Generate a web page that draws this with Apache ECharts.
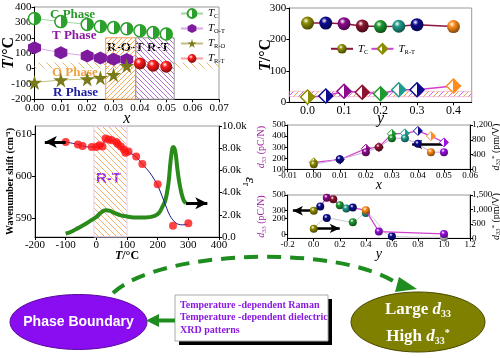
<!DOCTYPE html>
<html><head><meta charset="utf-8">
<script src="https://cdn.jsdelivr.net/npm/echarts@6/dist/echarts.min.js"></script>
<style>html,body{margin:0;padding:0;background:#fff}#c{width:500px;height:358px}</style>
</head><body><div id="c"></div>
<script>
// ---------- Panel 1: T vs x phase diagram ----------
const xA = [0, 0.01, 0.02, 0.025, 0.03, 0.035, 0.04, 0.045, 0.05];
const tcA = [325, 305, 287, 273, 266, 258, 245, 234, 224];
const xOT = [0, 0.01, 0.02, 0.025, 0.03, 0.035];
const tOT = [135, 103, 82, 68, 60, 58];
const tRO = [-90, -75, -68, -60, -40, 18];
const xRT = [0.04, 0.045, 0.05];
const tRT = [32, 18, 12];

// ---------- Panel 2: T vs y ----------
const yB = [0, 0.05, 0.1, 0.15, 0.2, 0.25, 0.3, 0.4];
const tcB = [252, 252, 250, 243, 241, 242, 247, 241];
const trtB = [17, 20, 35, 32, 27, 40, 40, 52];
const yTicksB = [0, 0.1, 0.2, 0.3, 0.4];

// ---------- Panel 3: Raman wavenumber + dielectric vs T ----------
const tRaman = [-100, -60, -45, -15, 0, 10, 20, 30, 40, 50, 65, 70, 80, 90, 95, 105, 130, 150, 200, 250, 300];
const wnRaman = [608.2, 607.6, 607.2, 607.0, 607.0, 607.4, 607.1, 609.0, 608.8, 608.6, 608.2, 607.7, 607.1, 606.4, 605.6, 605.9, 604.7, 602.9, 598.1, 588.2, 588.8];
const tFit = [-100, -60, -30, 0, 20, 30, 50, 70, 90, 110, 130, 150, 175, 200, 220, 240, 260, 280, 300];
const wnFit = [608.2, 607.6, 607.0, 607.0, 607.2, 608.9, 608.6, 607.8, 606.3, 605.6, 604.6, 602.9, 600.8, 597.8, 594.2, 590.6, 588.8, 588.4, 588.6];
const tDiel = [-100, -80, -60, -40, -20, 0, 15, 30, 45, 60, 80, 100, 130, 160, 190, 205, 215, 225, 235, 242, 248, 252, 258, 264, 270, 278, 285, 292];
const epsDiel = [300, 500, 800, 1100, 1450, 1800, 2200, 2400, 2350, 2150, 1950, 1850, 1750, 1750, 1900, 2200, 2700, 3300, 4800, 6800, 8000, 8100, 7600, 6200, 5000, 3900, 3300, 3050];
const wnTicks = [590, 600, 610];

// ---------- Panel 4: d33 / d33* vs x ----------
const xD = [0, 0.01, 0.02, 0.025, 0.03, 0.035, 0.04, 0.045, 0.05];
const d33X = [145, 190, 255, 300, 380, 380, 330, 255, 255];
const d33sX = [190, 260, 560, 600, 960, 975, 1040, 900, 730];

// ---------- Panel 5: d33 / d33* vs y ----------
const yE = [0, 0.05, 0.1, 0.15, 0.2, 0.25, 0.3, 0.4, 0.5, 1.0];
const d33Y = [300, 355, 465, 445, 370, 330, 340, 305, 35, 5];
const yE2 = [0, 0.1, 0.3, 0.4, 0.6, 1.0];
const d33sY = [330, 700, 560, 875, 70, 35];
const d33Ticks = [0, 100, 200, 300, 400, 500];

const serif = 'Liberation Serif';
const COL = {olive:'#8c8c00', navy:'#0c0c90', purple:'#8c0a8c', maroon:'#8c1430', green:'#1e9a30', teal:'#1f9b8c', orange:'#ff8c1a', violet:'#9a10e0', gray:'#c8c8c8'};
const colsB = ['olive','navy','purple','maroon','green','teal','navy','orange'];
const colsD = ['olive','navy','purple','maroon','green','teal','navy','orange','violet'];
const colsE = ['olive','navy','purple','maroon','green','teal','navy','orange','violet','violet'];
const colsE2 = ['olive','navy','green','teal','navy','gray'];

function shade(hex, f){ const n=parseInt(hex.slice(1),16); const r=(n>>16)&255,g=(n>>8)&255,b=n&255; return 'rgb('+Math.round(r*f)+','+Math.round(g*f)+','+Math.round(b*f)+')'; }
function sphere(c){ return {type:'radial', x:0.38, y:0.32, r:0.75, colorStops:[{offset:0,color:'#ffffff'},{offset:0.3,color:c},{offset:1,color:shade(c,0.45)}]}; }
function half(c){ return {type:'linear', x:0,y:0,x2:1,y2:0, colorStops:[{offset:0,color:'#fff'},{offset:0.5,color:'#fff'},{offset:0.5,color:c},{offset:1,color:c}]}; }
function hatch(colors, dir, gap, lw){
  const cv=document.createElement('canvas'); cv.width=cv.height=gap; const g=cv.getContext('2d');
  g.lineWidth=lw;
  colors.forEach((c,k)=>{
    const off = k*gap/colors.length;
    g.strokeStyle=c; g.beginPath();
    for(let s=-gap; s<=gap*2; s+=gap){
      const o=s+off;
      if(dir>0){ g.moveTo(o-gap,gap); g.lineTo(o,0); }
      else { g.moveTo(o,0); g.lineTo(o+gap,gap); }
    }
    g.stroke();
  });
  return {image: cv, repeat:'repeat'};
}
const HEX = 'path://M50,0 L93,25 L93,75 L50,100 L7,75 L7,25 Z';
const STAR = 'path://M50,0 L61,35 L98,35 L68,57 L79,91 L50,70 L21,91 L32,57 L2,35 L39,35 Z';

function pts(xs, ys){ return xs.map((x,i)=>[x, ys[i]]); }
function colored(xs, ys, cols, fn){ return xs.map((x,i)=>({value:[x,ys[i]], itemStyle:fn(COL[cols[i]])})); }

function ax(fs, extra){
  const base = {
    axisLine:{show:true, onZero:false, lineStyle:{color:'#000', width:1}},
    axisTick:{show:true, length:3, lineStyle:{color:'#000'}},
    splitLine:{show:false},
    nameMoveOverlap:false,
    nameTextStyle:{color:'#000', fontFamily:serif}
  };
  const o = Object.assign(base, extra);
  o.axisLabel = Object.assign({show:true, color:'#000', fontFamily:serif, fontSize:fs, margin:3, hideOverlap:false, showMinLabel:true, showMaxLabel:true}, extra.axisLabel||{});
  return o;
}
const richT = (fs)=>({i:{fontStyle:'italic',fontWeight:'bold',fontSize:fs,fontFamily:serif,color:'#000'}, n:{fontWeight:'bold',fontSize:fs,fontFamily:serif,color:'#000'}});
const richD = (fs,c)=>({i:{fontStyle:'italic',fontSize:fs,fontFamily:serif,color:c}, s:{fontSize:fs*0.65,fontFamily:serif,color:c,padding:[fs*0.5,0,0,0]}, p:{fontSize:fs*0.7,fontFamily:serif,color:c,padding:[0,0,fs*0.4,0]}, n:{fontSize:fs,fontFamily:serif,color:c}});
const gRichT = {i:{fill:'#000', font:'italic bold 16px "Liberation Serif"'}, n:{fill:'#000', font:'bold 16px "Liberation Serif"'}};

const chart = echarts.init(document.getElementById('c'), null, {renderer:'canvas'});
const gridBase = {show:true, borderColor:'#999', borderWidth:1, containLabel:false, outerBoundsMode:'none'};

const legendRich = {t:{fontStyle:'italic', fontFamily:serif, fontSize:11, color:'#000'}, s:{fontFamily:serif, fontSize:6.5, color:'#000', padding:[6,0,0,0]}};
const legendNames = {'Tc':'{t|T}{s|C}','TO-T':'{t|T}{s|O-T}','TR-O':'{t|T}{s|R-O}','TR-T':'{t|T}{s|R-T}','Tc ':'{t|T}{s|C}','TR-T ':'{t|T}{s|R-T}'};

const option = {
  animation:false,
  backgroundColor:'#fff',
  grid:[
    Object.assign({left:34.5, top:7, width:184.5, height:92.3}, gridBase),
    Object.assign({left:289.3, top:8, width:182.4, height:94.3}, gridBase),
    Object.assign({left:35, top:126, width:184, height:111}, gridBase),
    Object.assign({left:287.7, top:125, width:182.3, height:44.3}, gridBase),
    Object.assign({left:287.7, top:195, width:182.3, height:43.3}, gridBase)
  ],
  xAxis:[
    ax(11, {gridIndex:0, type:'value', min:0, max:0.07, interval:0.01, axisLabel:{formatter:v=>v.toFixed(2)},
      name:'x', nameLocation:'middle', nameGap:11, nameTextStyle:{fontStyle:'italic',fontSize:16,fontFamily:serif,color:'#000'}}),
    ax(12, {gridIndex:1, type:'value', min:-0.05, max:0.45, axisLabel:{customValues:yTicksB,formatter:v=>v.toFixed(1)}, axisTick:{show:true,length:3,customValues:yTicksB,lineStyle:{color:'#000'}},
      name:'y', nameLocation:'middle', nameGap:8, nameTextStyle:{fontStyle:'italic',fontSize:16,fontFamily:serif,color:'#000'}}),
    ax(11, {gridIndex:2, type:'value', min:-200, max:400, interval:100,
      name:'{i|T}{n|/°C}', nameLocation:'middle', nameGap:13, nameTextStyle:{fontSize:12, rich:richT(12)}}),
    ax(9, {gridIndex:3, type:'value', min:-0.01, max:0.06, interval:0.01, axisLabel:{margin:2,formatter:v=>v.toFixed(2)},
      name:'x', nameLocation:'middle', nameGap:9, nameTextStyle:{fontStyle:'italic',fontSize:14,fontFamily:serif,color:'#000'}}),
    ax(9, {gridIndex:4, type:'value', min:-0.2, max:1.2, interval:0.2, axisLabel:{margin:2,formatter:v=>v.toFixed(1)},
      name:'y', nameLocation:'middle', nameGap:9, nameTextStyle:{fontStyle:'italic',fontSize:14,fontFamily:serif,color:'#000'}})
  ],
  yAxis:[
    ax(11, {gridIndex:0, type:'value', min:-200, max:400, interval:100}),
    ax(11, {gridIndex:1, type:'value', min:0, max:300, interval:100}),
    ax(11, {gridIndex:2, type:'value', min:585.5, max:612, axisLabel:{customValues:wnTicks}, axisTick:{show:true,length:3,customValues:wnTicks,lineStyle:{color:'#000'}},
      name:'Wavenumber shift (cm⁻¹)', nameLocation:'middle', nameGap:20, nameTextStyle:{fontWeight:'bold',fontSize:10,fontFamily:serif,color:'#000'}}),
    ax(11, {gridIndex:2, type:'value', position:'right', min:0, max:10000, interval:2000, axisLabel:{formatter:v=>v===0?'0.0':(v/1000).toFixed(1)+'k'},
      name:'{i|ε}{s|r}', nameLocation:'middle', nameGap:22, nameRotate:-90, nameTextStyle:{fontSize:15, rich:richD(15,'#000')}}),
    ax(9, {gridIndex:3, type:'value', min:100, max:500, interval:100, axisLabel:{margin:2},
      name:'{i|d}{s|33}{n| (pC/N)}', nameLocation:'middle', nameGap:20, nameTextStyle:{fontSize:10, rich:richD(10,'#9a1aa0')}}),
    ax(9, {gridIndex:3, type:'value', position:'right', min:0, max:1200, interval:400, axisLabel:{margin:2},
      name:'{i|d}{s|33}{p|*}{n| (pm/V)}', nameLocation:'middle', nameGap:20, nameTextStyle:{fontSize:10, rich:richD(10,'#000')}}),
    ax(9, {gridIndex:4, type:'value', min:-50, max:500, axisLabel:{margin:2,customValues:d33Ticks}, axisTick:{show:true,length:3,customValues:d33Ticks,lineStyle:{color:'#000'}},
      name:'{i|d}{s|33}{n| (pC/N)}', nameLocation:'middle', nameGap:20, nameTextStyle:{fontSize:10, rich:richD(10,'#9a1aa0')}}),
    ax(9, {gridIndex:4, type:'value', position:'right', min:0, max:1500, interval:500, axisLabel:{margin:2},
      name:'{i|d}{s|33}{p|*}{n| (pm/V)}', nameLocation:'middle', nameGap:20, nameTextStyle:{fontSize:10, rich:richD(10,'#000')}})
  ],
  legend:[
    {left:180, top:8, orient:'vertical', itemWidth:22, itemHeight:11, itemGap:3, data:['Tc','TO-T','TR-O','TR-T'],
      formatter:n=>legendNames[n], textStyle:{rich:legendRich}, padding:0},
    {left:330, top:43, orient:'horizontal', itemWidth:22, itemHeight:12, itemGap:2, data:['Tc ','TR-T '],
      formatter:n=>legendNames[n], textStyle:{rich:legendRich}, padding:0}
  ],
  series:[
    {name:'Tc', type:'line', xAxisIndex:0, yAxisIndex:0, data:pts(xA,tcA), symbol:'circle', symbolSize:12,
      itemStyle:{color:half('#2ca02c'), borderColor:'#2ca02c', borderWidth:1.5}, lineStyle:{color:'#9fd89f', width:1}, z:5,
      markArea:{silent:true, data:[
        [{xAxis:0, yAxis:0, itemStyle:{color:hatch(['#e8b870'],-1,8,1), borderWidth:0}},{xAxis:0.07, yAxis:40}],
        [{xAxis:0.027, yAxis:-200, itemStyle:{color:hatch(['#f5a860'],1,5,1), borderColor:'#f0a050', borderWidth:1}},{xAxis:0.0384, yAxis:200}],
        [{xAxis:0.0384, yAxis:-200, itemStyle:{color:hatch(['#b070d0'],-1,5,1), borderColor:'#999', borderWidth:1}},{xAxis:0.053, yAxis:200}]
      ]}},
    {name:'TO-T', type:'line', xAxisIndex:0, yAxisIndex:0, data:pts(xOT,tOT), symbol:HEX, symbolSize:13,
      itemStyle:{color:'#7d1a9e'}, lineStyle:{color:'#d8a8e8', width:1}, z:5},
    {name:'TR-O', type:'line', xAxisIndex:0, yAxisIndex:0, data:pts(xOT,tRO), symbol:STAR, symbolSize:15,
      itemStyle:{color:'#7a7a18'}, lineStyle:{color:'#c0c080', width:1}, z:5},
    {name:'TR-T', type:'line', xAxisIndex:0, yAxisIndex:0, data:pts(xRT,tRT), symbol:'circle', symbolSize:12,
      itemStyle:{color:sphere('#ff1a1a')}, lineStyle:{color:'#f4a0a0', width:1}, z:5},
    {name:'Tc ', type:'line', xAxisIndex:1, yAxisIndex:1, data:colored(yB,tcB,colsB,c=>({color:sphere(c)})), symbol:'circle', symbolSize:13,
      itemStyle:{color:sphere(COL.olive)}, lineStyle:{color:'#8c1440', width:1.5}, z:5,
      markArea:{silent:true, data:[[{xAxis:-0.05, yAxis:18, itemStyle:{color:hatch(['#f0a050','#e060e0'],1,10,1), borderColor:'#f0a0c0', borderWidth:0.6}},{xAxis:0.45, yAxis:35}]]}},
    {name:'TR-T ', type:'line', xAxisIndex:1, yAxisIndex:1, data:colored(yB,trtB,colsB,c=>({color:half(c), borderColor:c, borderWidth:1.5})), symbol:'diamond', symbolSize:14,
      itemStyle:{color:half(COL.olive), borderColor:COL.olive, borderWidth:1.5}, lineStyle:{color:'#d040d0', width:1.5}, z:5},
    {type:'line', xAxisIndex:2, yAxisIndex:3, data:pts(tDiel,epsDiel), smooth:0.4, symbol:'none', lineStyle:{color:'#2a8a1a', width:4},
      markArea:{silent:true, data:[[{xAxis:-8, yAxis:0, itemStyle:{color:hatch(['#f5b070'],-1,6,1), borderColor:'#e0d0f0', borderWidth:1}},{xAxis:100, yAxis:10000}]]},
      markLine:{silent:true, symbol:['none','arrow'], symbolSize:[9,12], label:{show:false}, lineStyle:{color:'#000', width:3, type:'solid'},
        data:[[{coord:[292,3050]},{coord:[362,3050]}]]}},
    {type:'line', xAxisIndex:2, yAxisIndex:2, data:pts(tFit,wnFit), smooth:0.3, symbol:'none', lineStyle:{color:'#1a1a8c', width:1}, z:3},
    {type:'scatter', xAxisIndex:2, yAxisIndex:2, data:pts(tRaman,wnRaman), symbol:'circle', symbolSize:8, itemStyle:{color:'#ff1414'}, z:4,
      markLine:{silent:true, symbol:['none','arrow'], symbolSize:[9,12], label:{show:false}, lineStyle:{color:'#000', width:3, type:'solid'},
        data:[[{coord:[-100,608.2]},{coord:[-168,608.2]}]]}},
    {type:'line', xAxisIndex:3, yAxisIndex:5, data:colored(xD,d33sX,colsD,c=>({color:half(c), borderColor:c, borderWidth:1})), symbol:'diamond', symbolSize:9,
      lineStyle:{color:'#d040d0', width:1.2}, z:5},
    {type:'line', xAxisIndex:3, yAxisIndex:4, data:colored(xD,d33X,colsD,c=>({color:sphere(c)})), symbol:'circle', symbolSize:8,
      lineStyle:{color:'#c8a8d8', width:1}, z:6,
      markLine:{silent:true, symbol:['none','arrow'], symbolSize:[7,10], label:{show:false}, lineStyle:{color:'#000', width:2.5, type:'solid'},
        data:[[{coord:[0.0505,325]},{coord:[0.0378,325]}],[{coord:[0.0511,253]},{coord:[0.0605,253]}]]}},
    {type:'line', xAxisIndex:4, yAxisIndex:7, data:colored(yE2,d33sY,colsE2,c=>({color:sphere(c)})), symbol:'circle', symbolSize:8,
      smooth:0.3, lineStyle:{color:'#c8c8d0', width:1}, z:5},
    {type:'line', xAxisIndex:4, yAxisIndex:6, data:colored(yE,d33Y,colsE,c=>({color:sphere(c)})), symbol:'circle', symbolSize:8,
      lineStyle:{color:'#d040d0', width:1.2}, z:6,
      markLine:{silent:true, symbol:['none','arrow'], symbolSize:[7,10], label:{show:false}, lineStyle:{color:'#000', width:2.5, type:'solid'},
        data:[[{coord:[0.0,300]},{coord:[-0.16,300]}],[{coord:[0.02,76]},{coord:[0.2,76]}]]}}
  ],
  graphic:[
    {type:'text', x:9, y:53, rotation:Math.PI/2, style:{text:'{i|T}{n|/°C}', align:'center', verticalAlign:'middle', rich:gRichT}},
    {type:'text', x:266, y:55, rotation:Math.PI/2, style:{text:'{i|T}{n|/°C}', align:'center', verticalAlign:'middle', rich:gRichT}},
    {type:'text', left:50, top:8, style:{text:'C Phase', fill:'#2a9a2a', font:'bold 13px "Liberation Serif"'}},
    {type:'text', left:52, top:29, style:{text:'T Phase', fill:'#8a1aa0', font:'bold 13px "Liberation Serif"'}},
    {type:'text', left:52, top:66, style:{text:'O Phase', fill:'#f0a040', font:'bold 13px "Liberation Serif"'}},
    {type:'text', left:53, top:86, style:{text:'R Phase', fill:'#2020a0', font:'bold 13px "Liberation Serif"'}},
    {type:'text', left:107, top:41, style:{text:'R-O-T', fill:'#000', font:'bold 13px "Liberation Serif"'}},
    {type:'text', left:147, top:41, style:{text:'R-T', fill:'#000', font:'bold 13px "Liberation Serif"'}},
    {type:'text', left:96, top:171, style:{text:'R-T', fill:'#9a30f0', font:'bold 15px "Liberation Sans"'}},
    {type:'bezierCurve', shape:{x1:113,y1:293,x2:398,y2:284,cpx1:160,cpy1:249,cpx2:340,cpy2:244}, style:{stroke:'#1e8c1e', lineWidth:4, lineDash:[14,9], fill:null}},
    {type:'polygon', shape:{points:[[417,289],[399,277],[395,292]]}, style:{fill:'#1e8c1e'}},
    {type:'ellipse', shape:{cx:78.5,cy:322,rx:68.5,ry:27.5}, style:{fill:'#8a0cf0', stroke:'#5a0a9a', lineWidth:1}},
    {type:'text', x:78.5, y:322, style:{text:'Phase Boundary', fill:'#fff', font:'bold 14px "Liberation Sans"', align:'center', verticalAlign:'middle'}},
    {type:'ellipse', shape:{cx:418,cy:322,rx:67,ry:30}, style:{fill:'#7f7f00', stroke:'#4a4a00', lineWidth:1}},
    {type:'text', x:418, y:310, style:{text:'{n|Large }{i|d}{s|33}', align:'center', verticalAlign:'middle',
      rich:{n:{fill:'#fff',font:'bold 17px "Liberation Serif"'}, i:{fill:'#fff',font:'italic bold 17px "Liberation Serif"'}, s:{fill:'#fff',font:'bold 10px "Liberation Serif"',padding:[9,0,0,0]}}}},
    {type:'text', x:418, y:337, style:{text:'{n|High }{i|d}{s|33}{p|*}', align:'center', verticalAlign:'middle',
      rich:{n:{fill:'#fff',font:'bold 17px "Liberation Serif"'}, i:{fill:'#fff',font:'italic bold 17px "Liberation Serif"'}, s:{fill:'#fff',font:'bold 10px "Liberation Serif"',padding:[9,0,0,0]}, p:{fill:'#fff',font:'bold 10px "Liberation Serif"',padding:[0,0,8,0]}}}},
    {type:'rect', shape:{x:179,y:299,width:153,height:46}, style:{fill:'#000'}},
    {type:'rect', shape:{x:175,y:295,width:153,height:46}, style:{fill:'#fff', stroke:'#aaa', lineWidth:1}},
    {type:'text', left:180, top:299, style:{text:'Temperature -dependent Raman\nTemperature -dependent dielectric\nXRD patterns', fill:'#8a1ae0', font:'bold 10px "Liberation Serif"', lineHeight:12.5}},
    {type:'line', shape:{x1:175,y1:320.5,x2:157,y2:320.5}, style:{stroke:'#1e8c1e', lineWidth:4}},
    {type:'polygon', shape:{points:[[146,320.5],[159,314],[159,327]]}, style:{fill:'#1e8c1e'}}
  ]
};
chart.setOption(option);
</script></body></html>
